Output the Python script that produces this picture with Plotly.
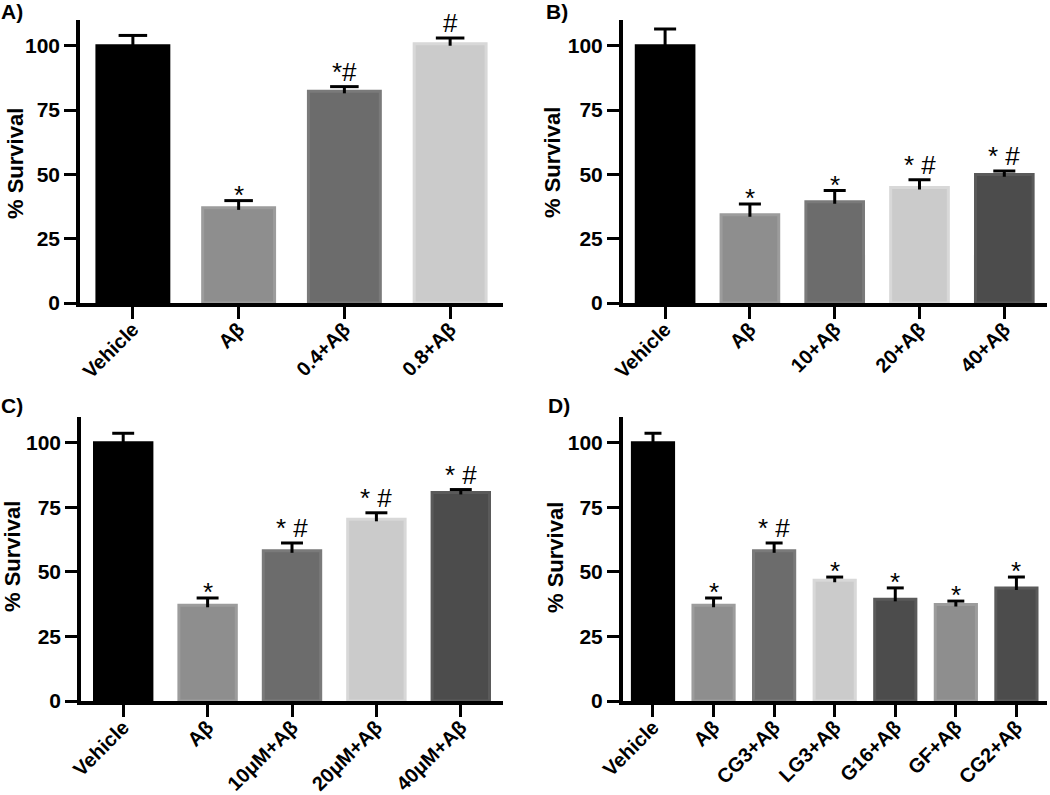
import plotly.graph_objects as go

# ---------------- data ----------------
a_labels = ["Vehicle", "Aβ", "0.4+Aβ", "0.8+Aβ"]
a_values = [100, 37, 82.3, 100.8]
a_errors = [4, 2.8, 1.8, 2.2]
a_marks = ["", "*", "*#", "#"]

b_labels = ["Vehicle", "Aβ", "10+Aβ", "20+Aβ", "40+Aβ"]
b_values = [100, 34.3, 39.4, 44.9, 49.9]
b_errors = [6.5, 4.2, 4.3, 3.0, 1.4]
b_marks = ["", "*", "*", "* #", "* #"]

c_labels = ["Vehicle", "Aβ", "10μM+Aβ", "20μM+Aβ", "40μM+Aβ"]
c_values = [100, 37.1, 58.2, 70.4, 80.8]
c_errors = [3.7, 2.8, 3.0, 2.5, 1.1]
c_marks = ["", "*", "* #", "* #", "* #"]

d_labels = ["Vehicle", "Aβ", "CG3+Aβ", "LG3+Aβ", "G16+Aβ", "GF+Aβ", "CG2+Aβ"]
d_values = [100, 37.1, 58.2, 46.8, 39.4, 37.4, 43.8]
d_errors = [3.7, 2.8, 3.0, 1.2, 4.4, 1.3, 4.2]
d_marks = ["", "*", "* #", "*", "*", "*", "*"]

y_ticks = [0, 25, 50, 75, 100]

# ---------------- styles ----------------
FILL = {"k": "#000000", "m": "#8e8e8e", "d": "#6c6c6c", "l": "#cbcbcb", "x": "#4c4c4c"}
EDGE = {"k": "#000000", "m": "#9c9c9c", "d": "#7a7a7a", "l": "#d8d8d8", "x": "#5a5a5a"}
a_cols = ["k", "m", "d", "l"]
b_cols = ["k", "m", "d", "l", "x"]
c_cols = ["k", "m", "d", "l", "x"]
d_cols = ["k", "m", "d", "l", "x", "m", "x"]

W, H = 1050, 795
FONT = "Liberation Sans, Arial, Helvetica, sans-serif"

panels = [
    (a_labels, a_values, a_errors, a_marks, a_cols, (80, 503), (303, 20), 0.135, "A)", (-1, 12), (16, 164)),
    (b_labels, b_values, b_errors, b_marks, b_cols, (622.7, 1046.7), (303, 20), 0.13, "B)", (544, 12), (553, 163)),
    (c_labels, c_values, c_errors, c_marks, c_cols, (81, 503), (701, 417), 0.13, "C)", (-1, 405), (12, 557)),
    (d_labels, d_values, d_errors, d_marks, d_cols, (622.7, 1046.7), (701, 417), 0.14, "D)", (546, 405), (555, 558)),
]

fig = go.Figure()
annotations = []
layout = {}

for k, (labels, vals, errs, marks, cols, xd, yd, capw, letter, lpos, tpos) in enumerate(panels):
    idx = "" if k == 0 else str(k + 1)
    xref, yref = "x" + idx, "y" + idx
    n = len(labels)
    xs = list(range(n))

    fig.add_trace(go.Bar(
        x=xs, y=vals, width=0.68,
        marker=dict(color=[FILL[c] for c in cols],
                    line=dict(color=[EDGE[c] for c in cols], width=3)),
        xaxis=xref, yaxis=yref, showlegend=False, hoverinfo="skip",
    ))

    ex, ey = [], []
    for i in xs:
        top = vals[i] + errs[i]
        ex += [i, i, None, i - capw, i + capw, None]
        ey += [vals[i] - 0.8, top, None, top, top, None]
    fig.add_trace(go.Scatter(
        x=ex, y=ey, mode="lines", line=dict(color="black", width=3),
        xaxis=xref, yaxis=yref, showlegend=False, hoverinfo="skip",
    ))

    for i in xs:
        m = marks[i]
        if not m:
            continue
        annotations.append(dict(
            x=i, y=vals[i] + errs[i], xref=xref, yref=yref,
            text=m, showarrow=False, xanchor="center", yanchor="bottom",
            yshift=(-11 if m == "*" else -2),
            font=dict(family=FONT, size=26, color="black"),
        ))

    annotations.append(dict(
        x=lpos[0] / W, y=1 - lpos[1] / H, xref="paper", yref="paper",
        text="<b>" + letter + "</b>", showarrow=False, xanchor="left", yanchor="middle",
        font=dict(family=FONT, size=21, color="black"),
    ))
    annotations.append(dict(
        x=tpos[0] / W, y=1 - tpos[1] / H, xref="paper", yref="paper",
        text="<b>% Survival</b>", showarrow=False, textangle=-90,
        xanchor="center", yanchor="middle",
        font=dict(family=FONT, size=22, color="black"),
    ))

    layout["xaxis" + idx] = dict(
        domain=[xd[0] / W, xd[1] / W], anchor=yref, range=[-0.5, n - 0.5],
        tickmode="array", tickvals=xs, ticktext=labels, tickangle=-45,
        ticks="outside", ticklen=12, tickwidth=3, tickcolor="black",
        ticklabelstandoff=-9,
        showline=True, linewidth=3.5, linecolor="black",
        showgrid=False, zeroline=False, fixedrange=True, automargin=False,
        tickfont=dict(family=FONT, size=20, color="black", weight="bold"),
    )
    layout["yaxis" + idx] = dict(
        domain=[1 - yd[0] / H, 1 - yd[1] / H], anchor=xref, range=[0, 110],
        tickmode="array", tickvals=y_ticks, ticktext=[str(t) for t in y_ticks],
        ticks="outside", ticklen=12, tickwidth=3, tickcolor="black",
        showline=True, linewidth=3.5, linecolor="black",
        showgrid=False, zeroline=False, fixedrange=True, automargin=False,
        tickfont=dict(family=FONT, size=21, color="black", weight="bold"),
    )

fig.update_layout(
    width=W, height=H,
    margin=dict(l=0, r=0, t=0, b=0, autoexpand=False),
    paper_bgcolor="white", plot_bgcolor="white",
    annotations=annotations,
    **layout,
)

fig.write_html(
    "out.html",
    config={"displayModeBar": False},
    post_script="document.body.style.margin='0';document.body.style.overflow='hidden';",
)
